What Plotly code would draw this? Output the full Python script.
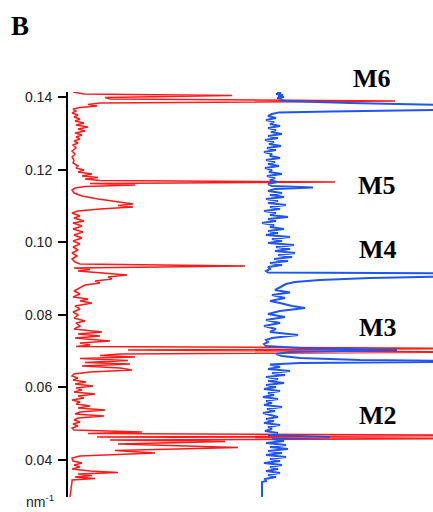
import plotly.graph_objects as go

# ---- data (q in nm^-1, intensity in arbitrary units) ----
red_q = [0.14138, 0.14083, 0.14041, 0.13986, 0.13945, 0.13890, 0.13835, 0.13793, 0.13752, 0.13711,
         0.13669, 0.13614, 0.13559, 0.13504, 0.13449, 0.13394, 0.13339, 0.13284, 0.13229, 0.13174,
         0.13118, 0.13063, 0.13008, 0.12953, 0.12898, 0.12843, 0.12788, 0.12733, 0.12678, 0.12595,
         0.12512, 0.12430, 0.12347, 0.12264, 0.12182, 0.12099, 0.12044, 0.11989, 0.11934, 0.11879,
         0.11824, 0.11782, 0.11741, 0.11700, 0.11658, 0.11617, 0.11576, 0.11534, 0.11493, 0.11438,
         0.11355, 0.11273, 0.11190, 0.11107, 0.11052, 0.11011, 0.10970, 0.10914, 0.10859, 0.10804,
         0.10722, 0.10667, 0.10584, 0.10529, 0.10446, 0.10363, 0.10281, 0.10198, 0.10115, 0.10033,
         0.09950, 0.09868, 0.09785, 0.09702, 0.09620, 0.09537, 0.09454, 0.09399, 0.09344, 0.09289,
         0.09248, 0.09206, 0.09151, 0.09096, 0.09041, 0.08986, 0.08931, 0.08876, 0.08821, 0.08738,
         0.08656, 0.08573, 0.08490, 0.08435, 0.08380, 0.08325, 0.08242, 0.08160, 0.08077, 0.07994,
         0.07912, 0.07829, 0.07774, 0.07691, 0.07609, 0.07526, 0.07471, 0.07416, 0.07361, 0.07278,
         0.07223, 0.07168, 0.07126, 0.07071, 0.07030, 0.06975, 0.06920, 0.06878, 0.06837, 0.06796,
         0.06741, 0.06686, 0.06644, 0.06589, 0.06534, 0.06479, 0.06424, 0.06369, 0.06314, 0.06259,
         0.06204, 0.06149, 0.06094, 0.06038, 0.05983, 0.05928, 0.05873, 0.05818, 0.05763, 0.05708,
         0.05653, 0.05598, 0.05543, 0.05488, 0.05432, 0.05377, 0.05322, 0.05267, 0.05212, 0.05157,
         0.05102, 0.05047, 0.04992, 0.04937, 0.04882, 0.04826, 0.04771, 0.04730, 0.04675, 0.04633,
         0.04592, 0.04551, 0.04509, 0.04440, 0.04344, 0.04261, 0.04192, 0.04110, 0.04055, 0.03972,
         0.03917, 0.03862, 0.03807, 0.03752, 0.03697, 0.03655, 0.03614, 0.03573, 0.03531, 0.03490,
         0.03449, 0.03393, 0.02980]
red_i = [5, 16, 164, 37, 42, 327, 32, 20, 29, 12,
         5, 8, 4, 10, 6, 12, 7, 16, 8, 20,
         10, 17, 7, 14, 8, 12, 6, 10, 5, 8,
         4, 7, 4, 6, 5, 10, 8, 16, 10, 24,
         14, 30, 17, 32, 267, 22, 67, 17, 7, 4,
         6, 14, 30, 52, 65, 50, 65, 32, 10, 4,
         12, 6, 16, 5, 14, 5, 15, 6, 14, 5,
         12, 5, 10, 4, 9, 4, 7, 12, 177, 6,
         22, 10, 32, 59, 40, 44, 27, 32, 17, 12,
         6, 12, 5, 20, 12, 24, 7, 12, 5, 10,
         6, 17, 8, 12, 6, 34, 10, 32, 7, 42,
         12, 22, 8, 450, 60, 420, 52, 32, 67, 12,
         60, 17, 62, 14, 52, 64, 22, 6, 4, 10,
         5, 18, 7, 25, 8, 14, 6, 27, 10, 16,
         4, 12, 8, 22, 10, 37, 12, 7, 36, 10,
         6, 12, 5, 10, 4, 6, 74, 20, 460, 29,
         440, 42, 157, 50, 170, 47, 87, 12, 4, 5,
         14, 6, 12, 4, 22, 50, 10, 24, 7, 27,
         4, 4, 2]

blue_q = [0.14138, 0.14110, 0.14083, 0.14055, 0.14028, 0.14000, 0.13972, 0.13945, 0.13917, 0.13890,
          0.13835, 0.13793, 0.13752, 0.13697, 0.13642, 0.13604, 0.13576,
          0.13532, 0.13477, 0.13421, 0.13366, 0.13311, 0.13256, 0.13201, 0.13146, 0.13091, 0.13036,
          0.12981, 0.12926, 0.12870, 0.12815, 0.12760, 0.12705, 0.12650, 0.12595, 0.12540, 0.12485,
          0.12430, 0.12375, 0.12319, 0.12264, 0.12209, 0.12154, 0.12099, 0.12044, 0.11989, 0.11934,
          0.11879, 0.11824, 0.11769, 0.11713, 0.11658, 0.11603, 0.11548, 0.11507, 0.11465, 0.11410,
          0.11355, 0.11300, 0.11245, 0.11190, 0.11135, 0.11080, 0.11025, 0.10970, 0.10914, 0.10859,
          0.10804, 0.10749, 0.10694, 0.10639, 0.10584, 0.10529, 0.10474, 0.10419, 0.10363, 0.10308,
          0.10253, 0.10198, 0.10143, 0.10088, 0.10033, 0.09978, 0.09923, 0.09868, 0.09812, 0.09757,
          0.09702, 0.09647, 0.09592, 0.09537, 0.09482, 0.09427, 0.09372, 0.09317, 0.09261, 0.09206,
          0.09165, 0.09138, 0.09069, 0.09014, 0.08958, 0.08903, 0.08848, 0.08793, 0.08738, 0.08683,
          0.08614, 0.08545, 0.08462, 0.08380, 0.08325, 0.08242, 0.08187, 0.08104, 0.08022, 0.07939,
          0.07857, 0.07774, 0.07691, 0.07609, 0.07526, 0.07443, 0.07361, 0.07306, 0.07250, 0.07195,
          0.07140, 0.07085, 0.07030, 0.06975, 0.06920, 0.06865, 0.06810, 0.06755, 0.06713, 0.06672,
          0.06631, 0.06562, 0.06507, 0.06451, 0.06396, 0.06341, 0.06286, 0.06231, 0.06176, 0.06121,
          0.06066, 0.06011, 0.05956, 0.05900, 0.05845, 0.05790, 0.05735, 0.05680, 0.05625, 0.05570,
          0.05515, 0.05460, 0.05405, 0.05349, 0.05294, 0.05239, 0.05184, 0.05129, 0.05074, 0.05019,
          0.04964, 0.04909, 0.04854, 0.04799, 0.04743, 0.04688, 0.04633, 0.04578, 0.04523, 0.04468,
          0.04413, 0.04358, 0.04303, 0.04248, 0.04192, 0.04137, 0.04082, 0.04027, 0.03972, 0.03917,
          0.03862, 0.03807, 0.03752, 0.03697, 0.03642, 0.03587, 0.03531, 0.03476, 0.03421, 0.03393,
          0.02980]
blue_i = [15, 19, 14, 21, 16, 22, 15, 20, 18, 24,
          88, 158, 238, 218, 178, 68, 17,
          10, 6, 14, 4, 12, 8, 18, 6, 14, 9,
          20, 6, 16, 3, 12, 7, 19, 5, 14, 2,
          10, 8, 18, 4, 13, 6, 17, 3, 10, 7,
          20, 5, 13, 8, 15, 6, 10, 51, 13, 6,
          20, 8, 22, 4, 16, 6, 24, 8, 18, 2,
          14, 8, 26, 6, 14, 0, 12, 8, 22, 6,
          16, 4, 28, 10, 20, 6, 32, 14, 28, 13,
          33, 16, 30, 12, 26, 8, 20, 6, 8, 4,
          6, 258, 208, 108, 58, 33, 24, 20, 16, 13,
          28, 10, 23, 8, 18, 30, 43, 18, 6, 23,
          4, 18, 2, 14, 8, 36, 10, 4, 6, 2,
          4, 38, 135, 28, 14, 20, 38, 98, 258, 38,
          8, 18, 6, 28, 10, 23, 4, 16, 6, 22,
          4, 14, 2, 18, 6, 12, 1, 16, 4, 10,
          2, 20, 5, 13, 1, 8, 16, 4, 12, 2,
          18, 6, 10, 3, 16, 6, 68, 10, 22, 4,
          24, 8, 26, 6, 20, 4, 24, 8, 18, 2,
          20, 8, 16, 4, 18, 6, 14, 3, 4, 0,
          0]

tick_vals = [0.04, 0.06, 0.08, 0.10, 0.12, 0.14]
tick_text = ["0.04", "0.06", "0.08", "0.10", "0.12", "0.14"]
peak_labels = ["M6", "M5", "M4", "M3", "M2"]

# ---- layout constants ----
BLUE_OFFSET = 194
W, H = 433, 512
L, R, T, B = 68, 0, 92, 15
PW, PH = W - L - R, H - T - B

def px(xp):
    return (xp - L) / PW

def py(yp):
    return (H - B - yp) / PH

fig = go.Figure()
fig.add_trace(go.Scatter(x=red_i, y=red_q, mode="lines",
                         line=dict(color="#ff1a1a", width=1.5), hoverinfo="skip"))
fig.add_trace(go.Scatter(x=[v + BLUE_OFFSET for v in blue_i], y=blue_q, mode="lines",
                         line=dict(color="#1f55f0", width=2), hoverinfo="skip"))

label_pos = [(372, 78), (377, 185), (378, 249), (378, 327), (378, 415)]
annotations = []
for lab, (xp, yp) in zip(peak_labels, label_pos):
    annotations.append(dict(text="<b>" + lab + "</b>", x=px(xp), y=py(yp), xref="paper", yref="paper",
                            showarrow=False, xanchor="center", yanchor="middle",
                            font=dict(family="Liberation Serif", size=26, color="black")))
annotations.append(dict(text="<b>B</b>", x=px(20), y=py(26), xref="paper", yref="paper",
                        showarrow=False, xanchor="center", yanchor="middle",
                        font=dict(family="Liberation Serif", size=27, color="black")))
annotations.append(dict(text="nm<sup>-1</sup>", x=px(40), y=py(501), xref="paper", yref="paper",
                        showarrow=False, xanchor="center", yanchor="middle",
                        font=dict(family="Liberation Sans", size=14, color="#222")))

fig.update_layout(
    width=W, height=H,
    margin=dict(l=L, r=R, t=T, b=B, pad=0),
    paper_bgcolor="white", plot_bgcolor="white",
    showlegend=False,
    annotations=annotations,
    xaxis=dict(range=[0, PW], visible=False, fixedrange=True),
    yaxis=dict(range=[0.02980, 0.14138], tickvals=tick_vals, ticktext=tick_text,
               showline=True, linecolor="black", linewidth=2,
               ticks="outside", ticklen=8, tickwidth=2, tickcolor="black",
               showgrid=False, zeroline=False, ticklabelstandoff=3,
               tickfont=dict(family="Liberation Sans", size=14, color="#222")),
)

fig.write_html("out.html", config={"displayModeBar": False},
               post_script="document.body.style.margin='0px';document.body.style.overflow='hidden';")
